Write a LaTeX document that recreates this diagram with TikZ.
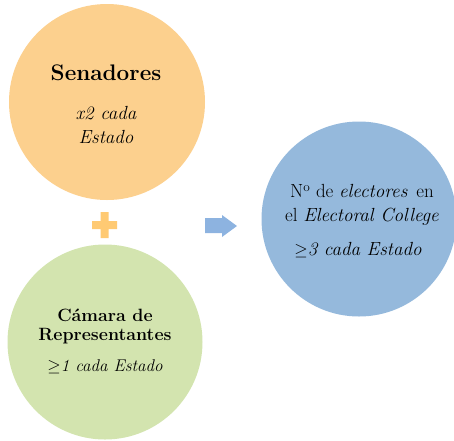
\documentclass[tikz,border=0pt]{standalone}
\usepackage{amsmath}
\usepackage{amssymb}
\usepackage{fontspec}
\usetikzlibrary{positioning}
\definecolor{senado}{HTML}{FCD08E}
\definecolor{camara}{HTML}{D3E4AF}
\definecolor{colegio}{HTML}{95B9DC}
\definecolor{masnar}{HTML}{FFCA73}
\definecolor{flecha}{HTML}{8DB3E0}
\begin{document}
\begin{tikzpicture}[x=1pt,y=-1pt]
            \tikzset{
                bola/.style={circle,minimum size=#1pt,inner sep=0pt,align=center},
                txt/.style={font=\fontsize{#1}{24}\selectfont,inner sep=0pt,align=center},}
            \useasboundingbox (0,0) rectangle (454,440);
            \node [bola=196,fill=senado] (sen) at (107,102) {};
            \node [bola=195,fill=camara] (cam) at (105,342) {};
            \node [bola=195,fill=colegio] (ec) at (359,219) {};
            % textos
            \node [txt=22.5,font=\fontsize{22.5}{24}\selectfont\bfseries] (sent) at (106,73) {Senadores};
            \node [txt=19] (sena) at (106,125) {\itshape x2 cada\\\itshape Estado};
            \node [txt=17.8,font=\fontsize{17.8}{19}\selectfont\bfseries] (camt) at (105,326) {C\'amara de\\Representantes};
            \node [txt=17] (cama) at (105,367) {\itshape $\geq$1 cada Estado};
            \node [txt=19] (ect) at (362,205) {N\textsuperscript{o} de \textit{electores}\, en\\el \textit{Electoral College}};
            \node [txt=19] (eca) at (358,250) {\itshape $\geq$3 cada Estado};
            % signo mas y flecha
            \fill [masnar] (92,221) rectangle (117,229) (100.5,212) rectangle (108.5,238);
            \fill [flecha] (205,218) -- (222,218) -- (222,215) -- (237,226)
                -- (222,237) -- (222,233) -- (205,233) -- cycle;
        \end{tikzpicture}
\end{document}
